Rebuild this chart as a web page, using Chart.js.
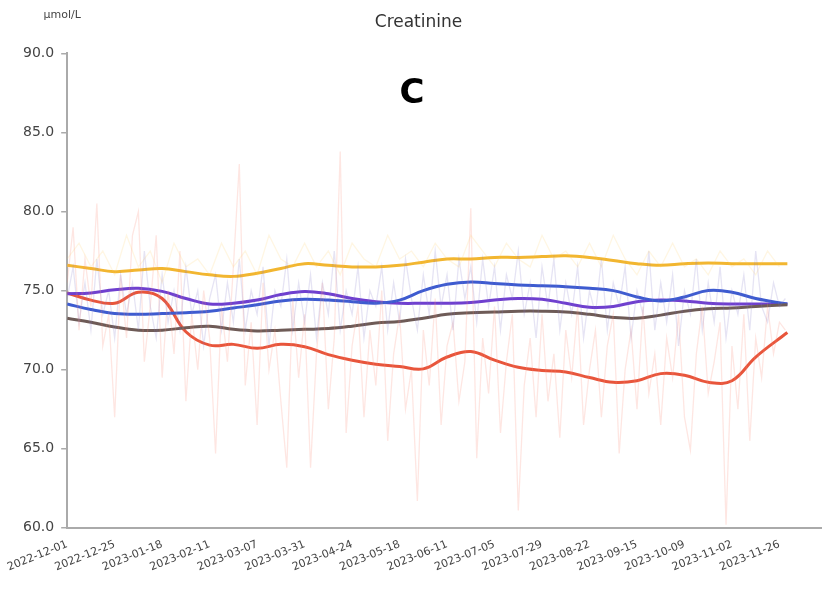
<!DOCTYPE html>
<html>
<head>
<meta charset="utf-8">
<title>Creatinine</title>
<script src="https://cdn.jsdelivr.net/npm/chart.js@4.4.1/dist/chart.umd.min.js"></script>
<style>
  body { margin: 0; background: #fff; }
  #wrap { width: 822px; height: 591px; }
</style>
</head>
<body>
<div id="wrap"><canvas id="creatChart"></canvas></div>
<script>
// x axis is days since 2022-12-01, labelled every 24 days
var tickLabels = ['2022-12-01', '2022-12-25', '2023-01-18', '2023-02-11', '2023-03-07', '2023-03-31',
	'2023-04-24', '2023-05-18', '2023-06-11', '2023-07-05', '2023-07-29', '2023-08-22',
	'2023-09-15', '2023-10-09', '2023-11-02', '2023-11-26'];
var tickStep = 24;

// smoothed trend lines, sampled on these days
var trendDays = [0, 12, 24, 36, 48, 60, 72, 84, 96, 108, 120, 132, 144, 156, 168, 180,
	192, 204, 216, 228, 240, 252, 264, 276, 288, 300, 312, 324, 336, 348, 364];

var yellowTrend = [76.6, 76.4, 76.2, 76.3, 76.4, 76.2, 76.0, 75.9, 76.1, 76.4, 76.7, 76.6, 76.5, 76.5, 76.6, 76.8,
	77.0, 77.0, 77.1, 77.1, 77.15, 77.2, 77.1, 76.9, 76.7, 76.6, 76.7, 76.75, 76.7, 76.7, 76.7];
var blueTrend = [74.15, 73.8, 73.55, 73.5, 73.55, 73.6, 73.7, 73.9, 74.1, 74.35, 74.45, 74.4, 74.3, 74.2, 74.4, 75.0,
	75.4, 75.55, 75.45, 75.35, 75.3, 75.25, 75.15, 75.0, 74.6, 74.35, 74.6, 75.0, 74.9, 74.5, 74.15];
var purpleTrend = [74.8, 74.85, 75.05, 75.15, 74.95, 74.5, 74.15, 74.2, 74.4, 74.75, 74.95, 74.8, 74.5, 74.3, 74.2, 74.2,
	74.2, 74.25, 74.4, 74.5, 74.45, 74.2, 73.95, 74.0, 74.3, 74.4, 74.35, 74.2, 74.15, 74.15, 74.15];
var brownTrend = [73.25, 73.0, 72.7, 72.5, 72.5, 72.65, 72.75, 72.55, 72.45, 72.5, 72.55, 72.6, 72.75, 72.95, 73.05, 73.25,
	73.5, 73.6, 73.65, 73.7, 73.7, 73.65, 73.5, 73.3, 73.25, 73.45, 73.7, 73.85, 73.9, 74.0, 74.1];
var redTrend = [74.85, 74.4, 74.2, 74.9, 74.5, 72.4, 71.55, 71.6, 71.35, 71.6, 71.45, 70.95, 70.6, 70.35, 70.2, 70.05,
	70.8, 71.15, 70.6, 70.15, 69.95, 69.85, 69.5, 69.2, 69.3, 69.75, 69.65, 69.2, 69.3, 70.8, 72.35];

// raw readings behind the trends (every 3rd day for red / blue, every 6th for yellow)
var rawStep = 3;
var redRaw = [75.5, 79.0, 72.5, 77.0, 74.0, 80.5, 71.5, 73.5, 67.0, 76.0,
	72.0, 78.5, 80.0, 70.5, 74.0, 78.5, 69.5, 75.0, 71.0, 77.5,
	68.0, 73.5, 70.0, 75.0, 72.0, 64.7, 74.0, 70.5, 76.5, 83.0,
	69.0, 73.0, 66.5, 75.5, 70.0, 72.5, 68.0, 63.8, 74.5, 69.5,
	73.5, 63.8, 71.0, 75.5, 67.5, 72.0, 83.8, 66.0, 71.5, 74.0,
	67.0, 72.5, 69.0, 75.0, 65.5, 71.0, 73.5, 67.5, 70.0, 61.7,
	72.5, 69.0, 74.5, 66.5, 71.5, 73.0, 68.0, 70.5, 80.2, 64.4,
	72.0, 68.5, 74.0, 66.0, 70.5, 73.5, 61.1, 69.0, 72.0, 67.0,
	73.5, 68.0, 71.0, 65.7, 72.5, 69.5, 74.0, 66.5, 70.0, 72.5,
	67.0, 71.5, 73.5, 64.7, 70.0, 72.5, 67.5, 74.0, 68.5, 71.0,
	66.5, 72.0, 69.5, 73.5, 67.0, 64.9, 71.0, 74.0, 68.5, 70.5,
	73.0, 60.2, 71.5, 67.5, 73.5, 65.5, 72.0, 69.5, 74.0, 71.0,
	73.0, 72.5];
var blueRaw = [74.5, 76.5, 73.0, 75.5, 72.5, 77.0, 73.5, 75.0, 72.0, 76.0,
	73.5, 75.5, 72.5, 77.5, 74.0, 72.0, 76.0, 73.0, 75.0, 72.5,
	76.5, 73.5, 75.0, 71.5, 74.5, 76.0, 72.5, 75.5, 73.0, 77.0,
	72.5, 75.0, 73.5, 76.5, 71.5, 75.0, 74.0, 77.0, 72.5, 75.5,
	73.0, 76.0, 72.0, 75.5, 73.5, 77.5, 72.5, 75.0, 73.5, 76.5,
	72.0, 75.0, 74.0, 76.5, 72.5, 75.5, 73.0, 77.0, 74.5, 72.5,
	76.0, 73.5, 77.5, 74.0, 76.0, 72.5, 77.0, 74.5, 76.5, 73.0,
	77.0, 74.0, 76.5, 72.5, 76.0, 74.5, 77.5, 73.5, 75.5, 72.0,
	76.5, 74.0, 77.0, 72.5, 75.5, 73.5, 76.5, 72.0, 75.0, 73.5,
	77.0, 72.5, 75.5, 74.0, 76.5, 72.0, 75.0, 73.5, 77.5, 72.5,
	75.5, 73.0, 76.0, 71.5, 75.0, 73.5, 77.0, 72.5, 75.5, 73.0,
	76.5, 72.0, 75.0, 73.5, 76.0, 72.5, 77.5, 74.0, 73.0, 75.5,
	74.0, 74.5];
var yellowRawStep = 6;
var yellowRaw = [77.0, 78.0, 76.5, 77.5, 76.0, 78.5, 76.5, 77.5, 75.5, 78.0,
	76.5, 77.0, 76.0, 78.0, 76.5, 77.5, 76.0, 78.5, 77.0, 76.5,
	78.0, 76.5, 77.5, 76.0, 78.0, 77.0, 76.5, 78.5, 77.0, 77.5,
	76.5, 78.0, 77.0, 76.5, 78.5, 77.5, 76.5, 78.0, 77.0, 76.5,
	78.5, 77.0, 77.5, 76.5, 78.0, 76.5, 78.5, 77.0, 76.0, 77.5,
	76.5, 78.0, 76.5, 77.0, 76.0, 77.5, 76.5, 77.0, 76.0, 77.5, 76.5];

function pairs(days, values) {
	return values.map(function (v, i) { return { x: days[i], y: v }; });
}
function stepped(step, values) {
	return values.map(function (v, i) { return { x: i * step, y: v }; });
}

function rawLine(data, color) {
	return { data: data, borderColor: color, borderWidth: 1.3, pointRadius: 0, tension: 0, fill: false };
}
function trendLine(data, color) {
	return { data: data, borderColor: color, borderWidth: 3, pointRadius: 0, tension: 0.4, fill: false };
}

// unit label and the panel letter
var panelText = {
	id: 'panelText',
	afterDraw: function (chart) {
		var c = chart.ctx;
		var area = chart.chartArea;
		c.save();
		c.fillStyle = '#444';
		c.font = '11px "DejaVu Sans"';
		c.textAlign = 'center';
		c.textBaseline = 'middle';
		c.fillText('µmol/L', area.left - 5, 15);
		c.fillStyle = '#000';
		c.font = 'bold 34px "DejaVu Sans"';
		c.fillText('C', 412, 94);
		c.restore();
	}
};

var ctx = document.getElementById('creatChart');
var creatChart = new Chart(ctx, {
	type: 'line',
	data: {
		datasets: [
			rawLine(stepped(yellowRawStep, yellowRaw), 'rgba(255,200,80,0.16)'),
			rawLine(stepped(rawStep, blueRaw), 'rgba(130,120,200,0.2)'),
			rawLine(stepped(rawStep, redRaw), 'rgba(250,140,125,0.22)'),
			trendLine(pairs(trendDays, yellowTrend), '#f2b630'),
			trendLine(pairs(trendDays, brownTrend), '#6e5b57'),
			trendLine(pairs(trendDays, blueTrend), '#3d5bd0'),
			trendLine(pairs(trendDays, purpleTrend), '#6f3fcf'),
			trendLine(pairs(trendDays, redTrend), '#e8553b')
		]
	},
	options: {
		responsive: true,
		maintainAspectRatio: false,
		animation: false,
		layout: { padding: { left: 16, right: 1, top: 0, bottom: 15 } },
		plugins: {
			legend: { display: false },
			tooltip: { enabled: false },
			title: {
				display: true,
				text: 'Creatinine',
				color: '#333',
				font: { family: 'DejaVu Sans', size: 17, weight: 'normal' },
				padding: { top: 12, bottom: 21 }
			}
		},
		scales: {
			x: {
				type: 'linear',
				min: 0,
				max: 381,
				afterBuildTicks: function (scale) {
					scale.ticks = tickLabels.map(function (_, i) { return { value: i * tickStep }; });
				},
				grid: { display: false },
				border: { display: true, color: '#aaa', width: 2 },
				ticks: {
					autoSkip: false,
					minRotation: 22,
					maxRotation: 22,
					padding: 2,
					color: '#444',
					font: { family: 'DejaVu Sans', size: 11 },
					callback: function (value, index) { return tickLabels[index]; }
				}
			},
			y: {
				min: 60,
				max: 90,
				grid: { drawOnChartArea: false, drawTicks: true, tickLength: 6, color: '#aaa', lineWidth: 1.5 },
				border: { display: true, color: '#aaa', width: 2 },
				ticks: {
					stepSize: 5,
					padding: 7,
					color: '#444',
					font: { family: 'DejaVu Sans', size: 14 },
					callback: function (value) { return value.toFixed(1); }
				}
			}
		}
	},
	plugins: [panelText]
});
</script>
</body>
</html>
